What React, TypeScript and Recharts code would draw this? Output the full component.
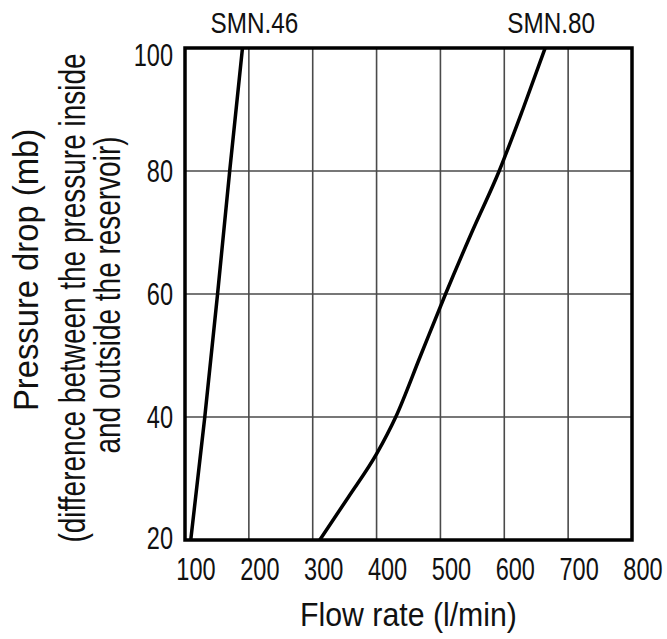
import React from 'react';
import { LineChart, Line, XAxis, YAxis, CartesianGrid, ReferenceArea, Label } from 'recharts';

const flowTicks = [100, 200, 300, 400, 500, 600, 700, 800];
const pressureTicks = [20, 40, 60, 80, 100];

const smn46Flow = [109, 131, 151, 170, 190];
const smn46Pressure = [20, 40, 60, 80, 100];

const smn80Flow = [311, 356, 400, 430, 469, 508, 549, 592, 629, 664];
const smn80Pressure = [20, 27, 34, 40, 50, 60, 70, 80, 90, 100];

const seriesNames = ['SMN.46', 'SMN.80'];
const xTitle = 'Flow rate (l/min)';
const yTitleLines = [
  'Pressure drop (mb)',
  '(difference between the pressure inside',
  'and outside the reservoir)',
];

const smn46 = smn46Flow.map((f, i) => ({ flow: f, pressure: smn46Pressure[i] }));
const smn80 = smn80Flow.map((f, i) => ({ flow: f, pressure: smn80Pressure[i] }));

const FONT = "'Liberation Sans', Arial, sans-serif";

const XTick = (props: any) => {
  const { x, y, payload } = props;
  return (
    <text transform={`translate(${x + 11},${y + 32}) scale(0.76,1)`} textAnchor="middle" fontFamily={FONT} fontSize={31} fill="#111">
      {payload.value}
    </text>
  );
};

const YTick = (props: any) => {
  const { x, y, payload } = props;
  const v = payload.value;
  const dy = v === 100 ? 18 : v === 20 ? 9 : 11;
  return (
    <text transform={`translate(${x - 4},${y + dy}) scale(0.76,1)`} textAnchor="end" fontFamily={FONT} fontSize={31} fill="#111">
      {v}
    </text>
  );
};

const endLabel = (name: string, len: number, dx: number) => (props: any) => {
  const { x, y, index } = props;
  if (index !== len - 1) return null;
  return (
    <text transform={`translate(${x + dx},${y - 15}) scale(0.81,1)`} textAnchor="middle" fontFamily={FONT} fontSize={30} fill="#111">
      {name}
    </text>
  );
};

const YTitle = (props: any) => {
  const vb = props.viewBox || {};
  const cy = (vb.y ?? 48) + (vb.height ?? 492) / 2;
  const lines = [
    { x: 38, dy: -24, size: 36, s: 0.91 },
    { x: 85, dy: 4, size: 36, s: 0.777 },
    { x: 120, dy: 1, size: 36, s: 0.777 },
  ];
  return (
    <g>
      {yTitleLines.map((t, i) => (
        <text
          key={i}
          transform={`translate(${lines[i].x},${cy + lines[i].dy}) rotate(-90) scale(${lines[i].s},1)`}
          textAnchor="middle"
          fontFamily={FONT}
          fontSize={lines[i].size}
          fill="#111"
        >
          {t}
        </text>
      ))}
    </g>
  );
};

const XTitle = (props: any) => {
  const vb = props.viewBox || {};
  const cx = (vb.x ?? 185) + (vb.width ?? 447) / 2;
  return (
    <text transform={`translate(${cx},${626}) scale(0.89,1)`} textAnchor="middle" fontFamily={FONT} fontSize={34} fill="#111">
      {xTitle}
    </text>
  );
};

export default function App() {
  return (
    <div style={{ position: 'absolute', left: 0, top: 0, width: 667, height: 639, background: '#fff' }}>
      <LineChart width={667} height={639} margin={{ top: 48, right: 35, bottom: 0, left: 0 }}>
        <CartesianGrid stroke="#4a4a4a" strokeWidth={1.6} />
        <XAxis
          type="number"
          dataKey="flow"
          domain={[100, 800]}
          ticks={flowTicks}
          tick={<XTick />}
          tickLine={false}
          axisLine={false}
          height={99}
          allowDataOverflow
        >
          <Label content={<XTitle />} />
        </XAxis>
        <YAxis
          type="number"
          dataKey="pressure"
          domain={[20, 100]}
          ticks={pressureTicks}
          tick={<YTick />}
          tickLine={false}
          axisLine={false}
          width={185}
          allowDataOverflow
        >
          <Label content={<YTitle />} />
        </YAxis>
        <ReferenceArea x1={100} x2={800} y1={20} y2={100} fill="none" stroke="#000" strokeWidth={3.5} />
        <Line
          data={smn46}
          dataKey="pressure"
          type="linear"
          stroke="#000"
          strokeWidth={3.5}
          dot={false}
          isAnimationActive={false}
          label={endLabel(seriesNames[0], smn46.length, 12)}
        />
        <Line
          data={smn80}
          dataKey="pressure"
          type="monotone"
          stroke="#000"
          strokeWidth={3.5}
          dot={false}
          isAnimationActive={false}
          label={endLabel(seriesNames[1], smn80.length, 6)}
        />
      </LineChart>
    </div>
  );
}
